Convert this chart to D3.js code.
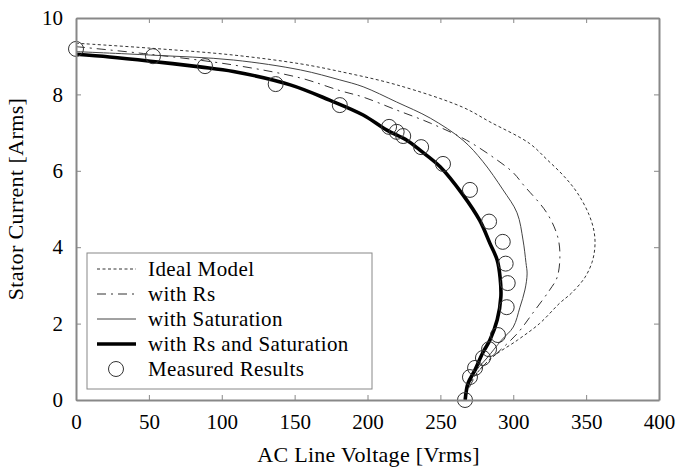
<!DOCTYPE html>
<html>
<head>
<meta charset="utf-8">
<script src="https://cdn.jsdelivr.net/npm/d3@7"></script>
<style>
  body { margin: 0; background: #fff; }
  text { font-family: "Liberation Serif", "DejaVu Serif", serif; fill: #000; }
</style>
</head>
<body>
<div id="chart"></div>
<script>
// values
var idealV = [0, 51, 108, 154, 181, 220, 265, 284, 311, 323, 335, 344, 352, 355.5, 356, 354, 349, 340, 332, 318, 303, 286, 275, 269, 267]
var idealI = [9.34, 9.21, 9.03, 8.8, 8.6, 8.25, 7.67, 7.28, 6.72, 6.3, 5.85, 5.42, 4.85, 4.4, 4.0, 3.6, 3.2, 2.8, 2.54, 2.0, 1.57, 1.13, 0.7, 0.34, 0]

var rsV = [0, 51, 108, 154, 181, 197, 220, 243, 268, 289, 300, 307, 323, 330.5, 332, 330, 325, 313.5, 303, 289, 277, 270, 267]
var rsI = [9.25, 9.05, 8.77, 8.43, 8.1, 7.93, 7.59, 7.25, 6.8, 6.28, 5.95, 5.63, 4.9, 4.27, 3.74, 3.2, 2.88, 2.28, 1.75, 1.23, 0.79, 0.34, 0]

var satV = [0, 51, 108, 154, 181, 197, 220, 243, 265.5, 279, 293, 302.6, 306.7, 308.7, 309.5, 308, 304.6, 300, 292, 282, 275, 269, 267]
var satI = [9.12, 9.03, 8.9, 8.64, 8.38, 8.2, 7.8, 7.38, 6.8, 6.25, 5.5, 4.9, 4.19, 3.6, 3.3, 2.88, 2.43, 1.91, 1.57, 1.1, 0.79, 0.34, 0]

var bothV = [0, 23, 51, 85, 108, 147, 174, 197, 213, 227, 236, 250, 265.5, 277, 284, 289, 291, 291.5, 289, 284, 279, 273.8, 269, 267]
var bothI = [9.05, 8.98, 8.87, 8.72, 8.6, 8.25, 7.85, 7.46, 7.07, 6.8, 6.54, 6.1, 5.37, 4.7, 4.1, 3.66, 3.2, 2.7, 2.1, 1.57, 1.23, 0.79, 0.44, 0]

var measV = [0, 52.8, 88.5, 137, 181, 214.8, 220, 224.5, 236.8, 251.8, 270.3, 283.4, 292.8, 294.8, 296.2, 295.5, 289.5, 283.4, 279.2, 273.8, 270.3, 266.9]
var measI = [9.19, 9.0, 8.74, 8.27, 7.72, 7.15, 7.02, 6.91, 6.62, 6.18, 5.5, 4.67, 4.14, 3.57, 3.06, 2.43, 1.7, 1.33, 1.1, 0.84, 0.6, 0]

var xTicks = [0, 50, 100, 150, 200, 250, 300, 350, 400]
var yTicks = [0, 2, 4, 6, 8, 10]

var legendLabels = ["Ideal Model", "with Rs", "with Saturation", "with Rs and Saturation", "Measured Results"]

var W = 678, H = 467
var margin = { top: 18, right: 19, bottom: 67, left: 76 }
var width = W - margin.left - margin.right
var height = H - margin.top - margin.bottom

var svg = d3.select("#chart")
  .append("svg")
    .attr("width", W)
    .attr("height", H)
  .append("g")
    .attr("transform", "translate(" + margin.left + "," + margin.top + ")")

var x = d3.scaleLinear().domain([0, 400]).range([0, width])
var y = d3.scaleLinear().domain([0, 10]).range([height, 0])

function zip(vs, is) {
  return vs.map(function(v, k) { return [v, is[k]] })
}

var series = [
  { data: zip(idealV, idealI), width: 1, dash: "3,2.5", color: "#333" },
  { data: zip(rsV, rsI), width: 1, dash: "9,5,2,5", color: "#333" },
  { data: zip(satV, satI), width: 1, dash: null, color: "#444" },
  { data: zip(bothV, bothI), width: 3.6, dash: null, color: "#000" }
]

var line = d3.line()
  .x(function(d) { return x(d[0]) })
  .y(function(d) { return y(d[1]) })
  .curve(d3.curveCatmullRom.alpha(0.5))

svg.selectAll("path.curve")
  .data(series)
  .enter()
  .append("path")
    .attr("class", "curve")
    .attr("d", function(d) { return line(d.data) })
    .attr("fill", "none")
    .attr("stroke", function(d) { return d.color })
    .attr("stroke-width", function(d) { return d.width })
    .attr("stroke-dasharray", function(d) { return d.dash })

// measured points
svg.append("g")
  .selectAll("circle")
  .data(zip(measV, measI))
  .enter()
  .append("circle")
    .attr("cx", function(d) { return x(d[0]) })
    .attr("cy", function(d) { return y(d[1]) })
    .attr("r", 7.5)
    .attr("fill", "none")
    .attr("stroke", "#333")
    .attr("stroke-width", 1)

// axes: inward ticks, grey frame
var axisColor = "#888"
var axBottom = svg.append("g")
  .attr("transform", "translate(0," + height + ")")
  .call(d3.axisBottom(x).tickValues(xTicks).tickSizeInner(-5).tickSizeOuter(0).tickPadding(14))
var axTop = svg.append("g")
  .call(d3.axisTop(x).tickValues(xTicks).tickSizeInner(-5).tickSizeOuter(0).tickFormat(""))
var axLeft = svg.append("g")
  .call(d3.axisLeft(y).tickValues(yTicks).tickSizeInner(-5).tickSizeOuter(0).tickPadding(13))
var axRight = svg.append("g")
  .attr("transform", "translate(" + width + ",0)")
  .call(d3.axisRight(y).tickValues(yTicks).tickSizeInner(-5).tickSizeOuter(0).tickFormat(""))

;[axBottom, axTop, axLeft, axRight].forEach(function(a) {
  a.select(".domain").attr("stroke", axisColor).attr("stroke-width", 2)
  a.selectAll(".tick line").attr("stroke", axisColor).attr("stroke-width", 1)
  a.selectAll("text").attr("font-size", 21).attr("fill", "#000")
    .style("font-family", "'Liberation Serif', serif")
})

// axis titles
svg.append("text")
  .attr("x", width / 2 + 1)
  .attr("y", height + 62)
  .attr("text-anchor", "middle")
  .attr("font-size", 22)
  .attr("letter-spacing", 0.3)
  .text("AC Line Voltage [Vrms]")

svg.append("text")
  .attr("transform", "translate(" + (-53) + "," + (height / 2 - 10) + ") rotate(-90)")
  .attr("text-anchor", "middle")
  .attr("font-size", 22)
  .attr("letter-spacing", 0.4)
  .text("Stator Current [Arms]")

// legend
var lg = svg.append("g").attr("transform", "translate(" + 11 + "," + 235 + ")")
lg.append("rect")
  .attr("width", 285)
  .attr("height", 136)
  .attr("fill", "#fff")
  .attr("stroke", axisColor)
  .attr("stroke-width", 1)

var rows = lg.selectAll("g.row")
  .data(legendLabels)
  .enter()
  .append("g")
    .attr("class", "row")
    .attr("transform", function(d, k) { return "translate(0," + (16 + k * 25) + ")" })

rows.each(function(d, k) {
  var g = d3.select(this)
  if (k < series.length) {
    var s = series[k]
    g.append("line")
      .attr("x1", 10).attr("x2", 49)
      .attr("stroke", s.color)
      .attr("stroke-width", s.width)
      .attr("stroke-dasharray", s.dash)
  } else {
    g.append("circle")
      .attr("cx", 29).attr("r", 7.5)
      .attr("fill", "none")
      .attr("stroke", "#333")
  }
  g.append("text")
    .attr("x", 61)
    .attr("dy", "0.33em")
    .attr("font-size", 21)
    .attr("letter-spacing", 0.4)
    .text(d)
})
</script>
</body>
</html>
